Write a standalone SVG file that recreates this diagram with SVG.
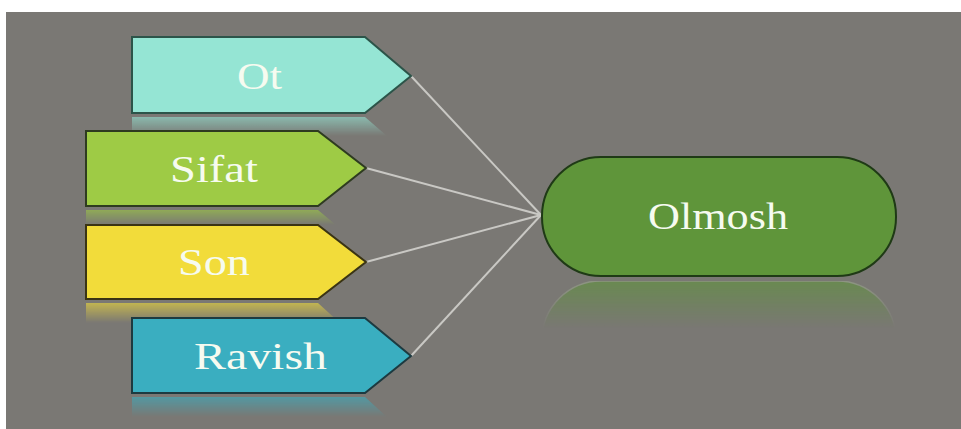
<svg xmlns="http://www.w3.org/2000/svg" width="961" height="429" viewBox="0 0 961 429">
  <defs>
    <linearGradient id="fadeGrad" x1="0" y1="0" x2="0" y2="1">
      <stop offset="0" stop-color="#fff" stop-opacity="0.6"/>
      <stop offset="1" stop-color="#fff" stop-opacity="0"/>
    </linearGradient>
    <mask id="fade" maskContentUnits="objectBoundingBox">
      <rect x="0" y="0" width="1" height="1" fill="url(#fadeGrad)"/>
    </mask>
    <linearGradient id="fadeGrad2" x1="0" y1="0" x2="0" y2="1">
      <stop offset="0" stop-color="#fff" stop-opacity="0.6"/>
      <stop offset="0.4" stop-color="#fff" stop-opacity="0"/>
      <stop offset="1" stop-color="#fff" stop-opacity="0"/>
    </linearGradient>
    <mask id="fade2" maskContentUnits="objectBoundingBox">
      <rect x="0" y="0" width="1" height="1" fill="url(#fadeGrad2)"/>
    </mask>
  </defs>
  <style>
    .lbl { font-family: "Liberation Serif", "Times New Roman", serif; fill: #f6fbf0; font-size: 38px; }
    .conn { stroke: #c9c8c4; stroke-width: 2; fill: none; }
    .shape { stroke-width: 2; }
  </style>
  <rect x="0" y="0" width="961" height="429" fill="#ffffff"/>
  <rect x="6" y="12" width="955" height="417" fill="#7a7874"/>

  <g id="reflections">
    <polygon points="132,117 365,117 387,136 132,136" fill="#95e5d4" mask="url(#fade)"/>
    <polygon points="86,210 318,210 336,225 86,225" fill="#9ecb45" mask="url(#fade)"/>
    <polygon points="86,303 318,303 340,323 86,323" fill="#f2dc3a" mask="url(#fade)"/>
    <polygon points="132,397 365,397 387,417 132,417" fill="#3aaec0" mask="url(#fade)"/>
    <rect x="542" y="281" width="354" height="119" rx="59" ry="59" fill="#5f953a" stroke="#9aa88c" stroke-width="1.5" mask="url(#fade2)"/>
  </g>

  <g id="connectors">
    <line class="conn" x1="411" y1="76" x2="541" y2="215"/>
    <line class="conn" x1="366" y1="168" x2="541" y2="215"/>
    <line class="conn" x1="366" y1="262" x2="541" y2="215"/>
    <line class="conn" x1="411" y1="356" x2="541" y2="215"/>
  </g>

  <g id="node-ot">
    <polygon class="shape" points="132,37 365,37 411,76 365,113 132,113" fill="#95e5d4" stroke="#2c5449"/>
    <text class="lbl" x="237" y="89" font-size="40" textLength="45" lengthAdjust="spacingAndGlyphs">Ot</text>
  </g>
  <g id="node-sifat">
    <polygon class="shape" points="86,131 318,131 366,168 318,206 86,206" fill="#9ecb45" stroke="#2e3b20"/>
    <text class="lbl" x="170" y="182" textLength="88" lengthAdjust="spacingAndGlyphs">Sifat</text>
  </g>
  <g id="node-son">
    <polygon class="shape" points="86,225 318,225 366,262 318,299 86,299" fill="#f2dc3a" stroke="#3a3414"/>
    <text class="lbl" x="178" y="275" textLength="72" lengthAdjust="spacingAndGlyphs">Son</text>
  </g>
  <g id="node-ravish">
    <polygon class="shape" points="132,318 365,318 411,356 365,393 132,393" fill="#3aaec0" stroke="#1d3a40"/>
    <text class="lbl" x="194" y="369" textLength="133" lengthAdjust="spacingAndGlyphs">Ravish</text>
  </g>
  <g id="node-olmosh">
    <rect x="542" y="157" width="354" height="119" rx="59" ry="59" fill="#5f953a" stroke="#1f3a16" stroke-width="2"/>
    <text class="lbl" x="648" y="229" font-size="37" textLength="140" lengthAdjust="spacingAndGlyphs" fill="#eef8e2">Olmosh</text>
  </g>
</svg>
